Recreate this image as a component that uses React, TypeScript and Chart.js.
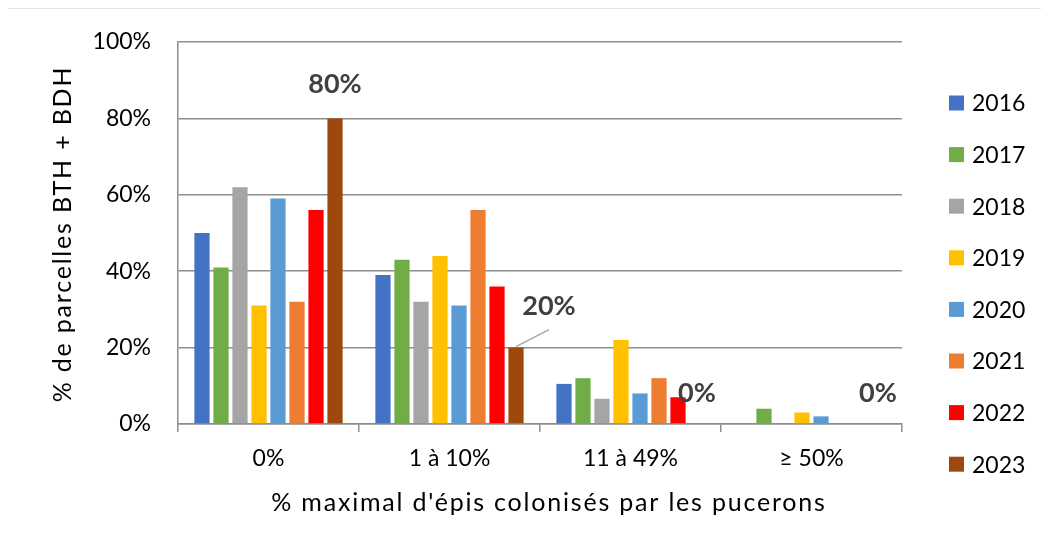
import { useEffect, useRef } from "react";
import { Chart, registerables } from "chart.js";

Chart.register(...registerables);

const categories = ["0%", "1 à 10%", "11 à 49%", "≥ 50%"];
const years = ["2016", "2017", "2018", "2019", "2020", "2021", "2022", "2023"];
const v2016 = [50, 39, 10.5, 0];
const v2017 = [41, 43, 12, 4];
const v2018 = [62, 32, 6.6, 0];
const v2019 = [31, 44, 22, 3];
const v2020 = [59, 31, 8, 2];
const v2021 = [32, 56, 12, 0];
const v2022 = [56, 36, 7, 0];
const v2023 = [80, 20, 0, 0];
const seriesValues = [v2016, v2017, v2018, v2019, v2020, v2021, v2022, v2023];
const yTickValues = [0, 20, 40, 60, 80, 100];
const yTitle = "% de parcelles BTH + BDH";
const xTitle = "% maximal d'épis colonisés par les pucerons";

const colors = ["#4472C4", "#70AD47", "#A5A5A5", "#FFC000", "#5B9BD5", "#ED7D31", "#FF0000", "#9E480E"];
const FONT = "Lato, 'Open Sans', sans-serif";
const GRID = "#8e8e8e";

// label placement (style) for the 2023 series data labels
const labelOffsets = [
  { dx: 0, dy: -34, leader: false },
  { dx: 33, dy: -41, leader: true },
  { dx: 0, dy: -31, leader: false },
  { dx: 0, dy: -31, leader: false },
];

const overlay = {
  id: "overlay",
  afterDatasetsDraw(chart: any) {
    const ctx = chart.ctx as CanvasRenderingContext2D;
    const meta = chart.getDatasetMeta(years.length - 1);
    ctx.save();
    // data labels of the last series
    ctx.font = `bold 27px ${FONT}`;
    ctx.fillStyle = "#404040";
    ctx.textAlign = "center";
    ctx.textBaseline = "middle";
    meta.data.forEach((bar: any, i: number) => {
      const off = labelOffsets[i];
      if (off.leader) {
        ctx.beginPath();
        ctx.strokeStyle = "#a6a6a6";
        ctx.lineWidth = 1.5;
        ctx.moveTo(bar.x, bar.y - 1);
        ctx.lineTo(bar.x + off.dx, bar.y - 18);
        ctx.stroke();
      }
      ctx.fillText(`${Math.round(v2023[i])}%`, bar.x + off.dx, bar.y + off.dy);
    });
    // legend
    ctx.font = `23px ${FONT}`;
    ctx.textAlign = "left";
    years.forEach((y, i) => {
      const cy = 103 + i * 51.6;
      ctx.fillStyle = colors[i];
      ctx.fillRect(949, cy - 7.5, 15, 15);
      ctx.fillStyle = "#000";
      ctx.fillText(y, 972, cy + 1);
    });
    // axis titles
    ctx.fillStyle = "#000";
    ctx.font = `25px ${FONT}`;
    (ctx as any).letterSpacing = "1.8px";
    ctx.textAlign = "center";
    ctx.fillText(xTitle, 549, 503);
    ctx.save();
    ctx.translate(63, 234);
    ctx.rotate(-Math.PI / 2);
    ctx.fillText(yTitle, 0, 0);
    ctx.restore();
    (ctx as any).letterSpacing = "0px";
    ctx.restore();
  },
};

export default function App() {
  const ref = useRef<HTMLCanvasElement>(null);
  useEffect(() => {
    if (!ref.current) return;
    const chart = new Chart(ref.current, {
      type: "bar",
      data: {
        labels: categories,
        datasets: years.map((y, i) => ({
          label: y,
          data: seriesValues[i],
          backgroundColor: colors[i],
          borderWidth: 0,
          categoryPercentage: 0.84,
          barPercentage: 0.8,
        })),
      },
      options: {
        responsive: false,
        animation: false,
        layout: { padding: { top: 42, right: 147, bottom: 0, left: 0 } },
        plugins: { legend: { display: false }, tooltip: { enabled: false } },
        scales: {
          x: {
            afterFit: (s: any) => {
              s.height = 132;
            },
            grid: {
              display: true,
              drawOnChartArea: false,
              drawTicks: true,
              tickLength: 8,
              color: GRID,
              lineWidth: 1.5,
              offset: true,
            },
            border: { display: true, color: GRID, width: 1.5 },
            ticks: { color: "#000", font: { family: FONT, size: 23 }, padding: 13 },
          },
          y: {
            min: 0,
            max: 100,
            afterFit: (s: any) => {
              s.width = 178;
            },
            afterBuildTicks: (s: any) => {
              s.ticks = yTickValues.map((v) => ({ value: v }));
            },
            grid: { color: GRID, lineWidth: 1.5, drawTicks: false },
            border: { display: true, color: GRID, width: 1.5 },
            ticks: {
              color: "#000",
              font: { family: FONT, size: 23 },
              padding: 27,
              callback: (v: any) => `${v}%`,
            },
          },
        },
      },
      plugins: [overlay],
    });
    return () => chart.destroy();
  }, []);
  return (
    <div style={{ position: "relative", margin: -8, width: 1049, height: 556, overflow: "hidden", background: "#fff" }}>
      <div
        style={{
          position: "absolute",
          left: 5,
          top: 7,
          width: 1100,
          height: 600,
          border: "2px solid #e3e3e3",
        }}
      />
      <canvas ref={ref} width={1049} height={556} style={{ position: "absolute", left: 0, top: 0, width: 1049, height: 556 }} />
    </div>
  );
}
